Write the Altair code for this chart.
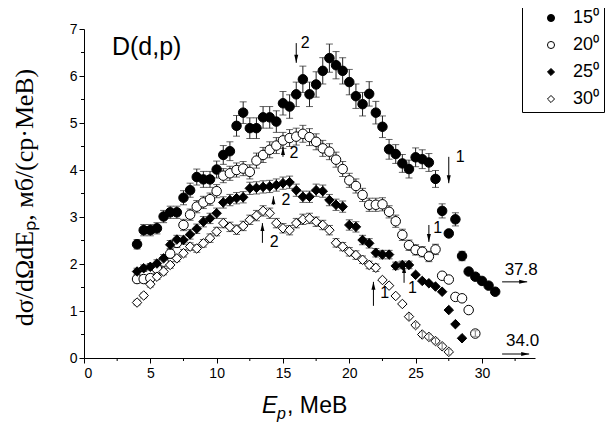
import altair as alt
import pandas as pd

# ---------------- data ----------------
energy = [4.0, 4.5, 5.0, 5.5, 6.0, 6.5, 7.0, 7.5, 8.0, 8.5,
          9.0, 9.5, 10.0, 10.5, 11.0, 11.5, 12.0, 12.5, 13.0, 13.5,
          14.0, 14.5, 15.0, 15.5, 16.0, 16.5, 17.0, 17.5, 18.0, 18.5,
          19.0, 19.5, 20.0, 20.5, 21.0, 21.5, 22.0, 22.5, 23.0, 23.5,
          24.0, 24.5, 25.0, 25.5, 26.0, 26.5, 27.0, 27.5, 28.0, 28.5,
          29.0, 29.5, 30.0, 30.5, 31.0]

angles = ["15⁰", "20⁰", "25⁰", "30⁰"]

s15 = [2.42, 2.72, 2.72, 2.76, 3.01, 3.10, 3.10, 3.41, 3.57, 3.85,
       3.80, 3.80, 4.01, 4.32, 4.40, 4.94, 5.22, 4.89, 4.89, 5.12,
       5.12, 5.03, 5.42, 5.35, 5.61, 5.93, 5.61, 5.82, 6.11, 6.38,
       6.23, 6.11, 5.87, 5.57, 5.40, 5.62, 5.22, 4.92, 4.44, 4.34,
       4.14, 4.02, 4.27, 4.23, 4.16, 3.81, 3.13, 2.65, 2.95, 2.17,
       1.84, 1.73, 1.64, 1.54, 1.41]
e15 = [0.10, 0.12, 0.12, 0.12, 0.13, 0.13, 0.13, 0.15, 0.15, 0.17,
       0.17, 0.17, 0.18, 0.20, 0.20, 0.22, 0.23, 0.22, 0.22, 0.23,
       0.23, 0.23, 0.25, 0.25, 0.26, 0.28, 0.26, 0.27, 0.28, 0.30,
       0.29, 0.28, 0.27, 0.26, 0.25, 0.26, 0.24, 0.23, 0.21, 0.20,
       0.19, 0.19, 0.20, 0.20, 0.19, 0.18, 0.15, 0.00, 0.14, 0.10,
       0.00, 0.00, 0.00, 0.00, 0.00]

s20 = [1.68, 1.68, 1.70, 1.90, 2.05, 2.22, 2.45, 2.83, 3.05, 3.22,
       3.31, 3.38, 3.55, 3.88, 3.93, 4.00, 4.03, 3.96, 4.20, 4.32,
       4.43, 4.52, 4.63, 4.68, 4.71, 4.77, 4.70, 4.60, 4.46, 4.39,
       4.22, 4.02, 3.78, 3.66, 3.47, 3.26, 3.26, 3.27, 3.11, 2.91,
       2.62, 2.40, 2.30, 2.26, 2.16, 2.31, 1.75, 1.67, 1.30, 1.27,
       1.02, 0.52]
e20 = [0.08, 0.08, 0.08, 0.09, 0.09, 0.10, 0.10, 0.12, 0.12, 0.13,
       0.13, 0.13, 0.14, 0.15, 0.15, 0.15, 0.15, 0.15, 0.16, 0.16,
       0.17, 0.17, 0.17, 0.18, 0.18, 0.18, 0.18, 0.17, 0.17, 0.17,
       0.16, 0.16, 0.15, 0.15, 0.14, 0.14, 0.14, 0.14, 0.13, 0.13,
       0.12, 0.11, 0.11, 0.11, 0.11, 0.11, 0.00, 0.00, 0.00, 0.00,
       0.00, 0.00]

s25 = [1.84, 1.91, 1.94, 2.01, 2.12, 2.41, 2.52, 2.51, 2.63, 2.75,
       2.90, 2.97, 3.08, 3.31, 3.36, 3.40, 3.42, 3.61, 3.62, 3.64,
       3.65, 3.68, 3.72, 3.74, 3.57, 3.43, 3.43, 3.57, 3.55, 3.36,
       3.26, 3.22, 2.83, 2.79, 2.51, 2.44, 2.24, 2.20, 2.20, 1.96,
       1.98, 1.98, 1.77, 1.64, 1.59, 1.52, 1.41, 1.02, 0.72, 0.42]
e25 = [0.07, 0.07, 0.07, 0.08, 0.08, 0.09, 0.09, 0.09, 0.10, 0.10,
       0.11, 0.11, 0.11, 0.12, 0.12, 0.12, 0.12, 0.13, 0.13, 0.13,
       0.13, 0.13, 0.13, 0.13, 0.13, 0.12, 0.12, 0.13, 0.13, 0.12,
       0.12, 0.12, 0.11, 0.11, 0.10, 0.10, 0.09, 0.09, 0.09, 0.08,
       0.08, 0.08, 0.00, 0.00, 0.00, 0.00, 0.00, 0.00, 0.00, 0.00]

s30 = [1.18, 1.33, 1.57, 1.73, 1.84, 1.98, 2.12, 2.23, 2.37, 2.33,
       2.44, 2.55, 2.69, 2.87, 2.79, 2.73, 2.81, 2.94, 3.03, 3.13,
       3.08, 2.87, 2.76, 2.72, 2.87, 2.95, 2.97, 2.90, 2.83, 2.72,
       2.45, 2.37, 2.26, 2.19, 2.09, 1.98, 1.92, 1.66, 1.54, 1.32,
       1.15, 0.88, 0.70, 0.50, 0.45, 0.36, 0.25, 0.13]
e30 = [0.05, 0.05, 0.06, 0.06, 0.07, 0.07, 0.07, 0.08, 0.08, 0.08,
       0.08, 0.09, 0.09, 0.10, 0.10, 0.10, 0.10, 0.10, 0.11, 0.11,
       0.11, 0.10, 0.10, 0.10, 0.10, 0.11, 0.11, 0.10, 0.10, 0.10,
       0.09, 0.09, 0.09, 0.09, 0.08, 0.08, 0.08, 0.00, 0.00, 0.00,
       0.00, 0.00, 0.00, 0.00, 0.00, 0.00, 0.00, 0.00]

# points whose small error bars are drawn over the symbol (hatched look)
hatched_angle = ["30⁰"] * 7 + ["20⁰"]
hatched_E = [24.5, 25.0, 25.5, 26.0, 26.5, 27.0, 27.5, 29.5]
hatched_err = 0.06

# arrow annotations (x, tail y, head y, direction)
varrow_x = [16.0, 15.0, 14.28, 13.45, 27.5, 26.0, 24.13, 21.82]
varrow_tail = [6.70, 4.28, 3.26, 2.45, 4.28, 2.83, 1.60, 1.11]
varrow_head = [6.28, 4.49, 3.44, 2.87, 3.72, 2.47, 1.98, 1.62]
varrow_dir = ["down", "up", "up", "up", "down", "down", "up", "up"]
varrow_lbl = ["2", "2", "2", "2", "1", "1", "1", "1"]
varrow_lx = [16.67, 15.83, 15.23, 14.33, 28.36, 26.66, 24.77, 22.66]
varrow_ly = [6.71, 4.36, 3.36, 2.47, 4.28, 2.77, 1.49, 1.38]

harrow_y = [1.62, 0.085]
harrow_x1 = [31.52, 31.52]
harrow_x2 = [33.41, 33.56]
harrow_lbl = ["37.8", "34.0"]
harrow_lx = [32.96, 33.07]
harrow_ly = [1.88, 0.36]

minor_x = [2.5, 7.5, 12.5, 17.5, 22.5, 27.5, 32.5]
minor_y = [0.5, 1.5, 2.5, 3.5, 4.5, 5.5, 6.5]

# ---------------- tables ----------------
rows = []
for ang, vals, errs in zip(angles, [s15, s20, s25, s30], [e15, e20, e25, e30]):
    for e, v, er in zip(energy, vals, errs):
        rows.append(dict(E=e, v=v, err=er, lo=v - er, hi=v + er, angle=ang))
df = pd.DataFrame(rows)
dfe = df[df.err > 0]

hrows = []
for a, e in zip(hatched_angle, hatched_E):
    v = df[(df.angle == a) & (df.E == e)].v.iloc[0]
    hrows.append(dict(E=e, lo=v - hatched_err, hi=v + hatched_err))
dfh = pd.DataFrame(hrows)

dva = pd.DataFrame(dict(x=varrow_x, tail=varrow_tail, head=varrow_head,
                        dir=varrow_dir, lbl=varrow_lbl, lx=varrow_lx, ly=varrow_ly))
dha = pd.DataFrame(dict(y=harrow_y, x1=harrow_x1, x2=harrow_x2,
                        lbl=harrow_lbl, lx=harrow_lx, ly=harrow_ly))

W, H = 451, 329
xs = alt.Scale(domain=[0, 34], nice=False, zero=False)
ys = alt.Scale(domain=[0, 7], nice=False, zero=False)

FONT = "Liberation Sans"

xaxis = alt.Axis(values=[0, 5, 10, 15, 20, 25, 30], tickSize=5, labelFontSize=14,
                 labelPadding=3, title=None, format="d", labelFont=FONT)
yaxis = alt.Axis(values=[0, 1, 2, 3, 4, 5, 6, 7], tickSize=5, labelFontSize=14,
                 labelPadding=2, format="d", labelFont=FONT,
                 title="dσ/dΩdEₚ, мб/(ср·МеВ)", titleFont="Liberation Serif",
                 titleFontSize=26, titleFontWeight="normal", titleColor="black",
                 titleX=-60, titleY=168, titleAlign="center", titleBaseline="middle")

leg = alt.Legend(title=None, orient="none", legendX=438, legendY=-24, padding=4,
                 strokeColor="black", fillColor="white", symbolOffset=16, labelOffset=13,
                 rowPadding=9, labelFontSize=18, labelFont=FONT, labelColor="black",
                 symbolSize=50, symbolStrokeWidth=1, symbolOpacity=1)

ecol = "#222222"

bars = alt.Chart(dfe).mark_rule(color=ecol, strokeWidth=1).encode(
    x=alt.X("E:Q", scale=xs, axis=xaxis),
    y=alt.Y("lo:Q", scale=ys, axis=yaxis),
    y2="hi:Q")
cap_lo = alt.Chart(dfe).mark_tick(orient="horizontal", size=7, thickness=1, color=ecol).encode(
    x=alt.X("E:Q", scale=xs), y=alt.Y("lo:Q", scale=ys))
cap_hi = alt.Chart(dfe).mark_tick(orient="horizontal", size=7, thickness=1, color=ecol).encode(
    x=alt.X("E:Q", scale=xs), y=alt.Y("hi:Q", scale=ys))

pts = alt.Chart(df).mark_point(filled=True, opacity=1, strokeWidth=1, size=90).encode(
    x=alt.X("E:Q", scale=xs),
    y=alt.Y("v:Q", scale=ys),
    shape=alt.Shape("angle:N", scale=alt.Scale(domain=angles,
                    range=["circle", "circle", "diamond", "diamond"]), legend=leg),
    fill=alt.Fill("angle:N", scale=alt.Scale(domain=angles,
                  range=["black", "white", "black", "white"]), legend=leg),
    stroke=alt.Stroke("angle:N", scale=alt.Scale(domain=angles,
                      range=["black", "black", "black", "black"]), legend=leg))

hcol = "#777777"
hbar = alt.Chart(dfh).mark_rule(color=hcol, strokeWidth=1).encode(
    x=alt.X("E:Q", scale=xs), y=alt.Y("lo:Q", scale=ys), y2="hi:Q")
hcap_lo = alt.Chart(dfh).mark_tick(orient="horizontal", size=6, thickness=1, color=hcol).encode(
    x=alt.X("E:Q", scale=xs), y=alt.Y("lo:Q", scale=ys))
hcap_hi = alt.Chart(dfh).mark_tick(orient="horizontal", size=6, thickness=1, color=hcol).encode(
    x=alt.X("E:Q", scale=xs), y=alt.Y("hi:Q", scale=ys))

minx = alt.Chart(pd.DataFrame(dict(m=minor_x))).mark_rule(color="black").encode(
    x=alt.X("m:Q", scale=xs), y=alt.value(H), y2=alt.value(H + 3))
miny = alt.Chart(pd.DataFrame(dict(m=minor_y))).mark_rule(color="black").encode(
    y=alt.Y("m:Q", scale=ys), x=alt.value(0), x2=alt.value(-3))

DOWN = "M0,0L-0.5,-2L0.5,-2Z"
UP = "M0,0L-0.5,2L0.5,2Z"
RIGHT = "M0,0L-2,-0.5L-2,0.5Z"

vline = alt.Chart(dva).mark_rule(color="black", strokeWidth=1).encode(
    x=alt.X("x:Q", scale=xs), y=alt.Y("tail:Q", scale=ys), y2="head:Q")
vhead_d = alt.Chart(dva[dva.dir == "down"]).mark_point(shape=DOWN, filled=True, color="black",
                                                      size=64, opacity=1).encode(
    x=alt.X("x:Q", scale=xs), y=alt.Y("head:Q", scale=ys))
vhead_u = alt.Chart(dva[dva.dir == "up"]).mark_point(shape=UP, filled=True, color="black",
                                                    size=64, opacity=1).encode(
    x=alt.X("x:Q", scale=xs), y=alt.Y("head:Q", scale=ys))
vlbl = alt.Chart(dva).mark_text(font=FONT, fontSize=16, color="black", baseline="middle",
                                align="center").encode(
    x=alt.X("lx:Q", scale=xs), y=alt.Y("ly:Q", scale=ys), text="lbl:N")

hline = alt.Chart(dha).mark_rule(color="black", strokeWidth=1).encode(
    x=alt.X("x1:Q", scale=xs), x2="x2:Q", y=alt.Y("y:Q", scale=ys))
hhead = alt.Chart(dha).mark_point(shape=RIGHT, filled=True, color="black", size=64,
                                  opacity=1).encode(
    x=alt.X("x2:Q", scale=xs), y=alt.Y("y:Q", scale=ys))
hlbl = alt.Chart(dha).mark_text(font=FONT, fontSize=17, color="black", baseline="middle",
                                align="center").encode(
    x=alt.X("lx:Q", scale=xs), y=alt.Y("ly:Q", scale=ys), text="lbl:N")

title_txt = alt.Chart(pd.DataFrame(dict(t=["D(d,p)"], x=[2.11], y=[6.45]))).mark_text(
    font=FONT, fontSize=25, color="black", align="left", baseline="alphabetic").encode(
    x=alt.X("x:Q", scale=xs), y=alt.Y("y:Q", scale=ys), text="t:N")

xt_E = alt.Chart(pd.DataFrame(dict(t=["E"]))).mark_text(
    font=FONT, fontSize=23, fontStyle="italic", color="black", align="left",
    baseline="alphabetic").encode(x=alt.value(178), y=alt.value(384), text="t:N")
xt_p = alt.Chart(pd.DataFrame(dict(t=["p"]))).mark_text(
    font=FONT, fontSize=16, fontStyle="italic", color="black", align="left",
    baseline="alphabetic").encode(x=alt.value(193), y=alt.value(390), text="t:N")
xt_r = alt.Chart(pd.DataFrame(dict(t=[", МеВ"]))).mark_text(
    font=FONT, fontSize=23, color="black", align="left",
    baseline="alphabetic").encode(x=alt.value(203), y=alt.value(384), text="t:N")

chart = alt.layer(
    bars, cap_lo, cap_hi, minx, miny, pts, hbar, hcap_lo, hcap_hi,
    vline, vhead_d, vhead_u, vlbl, hline, hhead, hlbl, title_txt, xt_E, xt_p, xt_r
).properties(
    width=W, height=H,
    autosize=alt.AutoSizeParams(type="none"),
    padding={"left": 76, "top": 21, "right": 73, "bottom": 66},
).configure_view(stroke=None).configure_axis(
    domainColor="black", tickColor="black", labelColor="black", grid=False
)

chart.save("out.html", embed_options={"renderer": "svg", "actions": False})
